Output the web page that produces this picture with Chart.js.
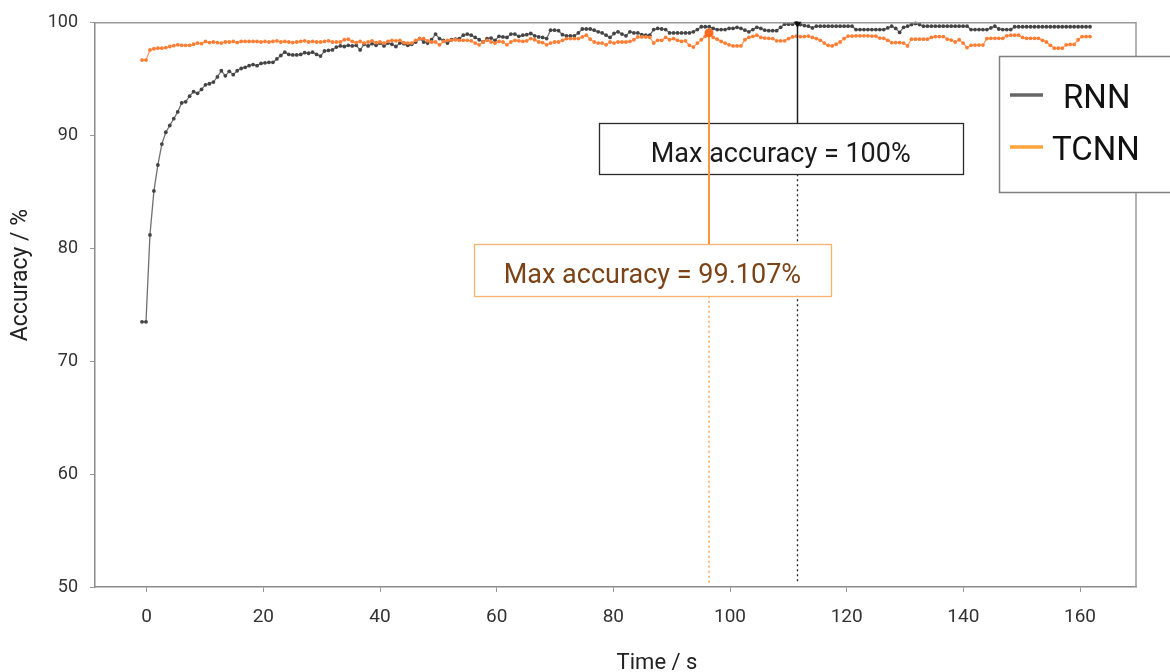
<!DOCTYPE html>
<html><head><meta charset="utf-8">
<script src="https://cdn.jsdelivr.net/npm/chart.js@4.4.1/dist/chart.umd.min.js"></script>
<style>html,body{margin:0;padding:0;background:#fff;}canvas{display:block;}</style>
</head><body>
<canvas id="c" width="1170" height="672"></canvas>
<script>
// ---- data ----
const timeStart = -0.8;       // s, first sample
const timeStep = 0.68;        // s, sampling interval
const seriesNames = ['RNN', 'TCNN'];
const rnnAccuracy = [
  73.5,73.5,81.2,85.1,87.4,89.25,90.3,90.9,91.5,92.1,
  92.9,93.0,93.5,93.9,93.75,94.1,94.5,94.6,94.75,95.2,
  95.75,95.3,95.7,95.4,95.75,95.95,96.05,96.2,96.3,96.2,
  96.4,96.45,96.5,96.5,96.8,97.1,97.4,97.2,97.15,97.15,
  97.2,97.35,97.3,97.4,97.2,97.05,97.5,97.55,97.6,97.85,
  97.95,97.9,98.0,97.95,98.0,97.6,98.1,97.95,98.15,98.0,
  98.2,97.95,98.2,98.1,97.9,98.2,98.15,98.0,98.1,98.3,
  98.6,98.3,98.2,98.5,99.0,98.6,98.45,98.2,98.5,98.55,
  98.6,98.9,99.0,98.9,98.7,98.5,98.3,98.6,98.65,98.45,
  98.8,98.75,98.7,99.0,99.0,98.8,98.9,98.95,99.05,98.85,
  98.75,98.7,98.6,99.35,99.35,99.3,98.95,98.85,98.85,98.85,
  99.1,99.45,99.45,99.45,99.35,99.2,99.1,98.9,98.7,99.05,
  99.2,99.0,98.85,99.2,99.1,99.1,98.95,98.9,98.9,99.4,
  99.5,99.45,99.4,99.1,99.1,99.1,99.1,99.1,99.1,99.2,
  99.4,99.65,99.65,99.65,99.5,99.4,99.4,99.4,99.5,99.5,
  99.6,99.5,99.35,99.2,99.4,99.6,99.5,99.35,99.3,99.3,
  99.3,99.6,99.88,99.88,99.88,100,99.85,99.75,99.7,99.55,
  99.7,99.7,99.7,99.7,99.7,99.7,99.7,99.7,99.7,99.7,
  99.4,99.4,99.4,99.4,99.4,99.4,99.4,99.4,99.55,99.7,
  99.5,99.15,99.6,99.7,99.85,99.94,99.85,99.7,99.7,99.7,
  99.7,99.7,99.7,99.7,99.7,99.7,99.7,99.7,99.7,99.4,
  99.4,99.4,99.4,99.4,99.55,99.7,99.45,99.4,99.4,99.4,
  99.65,99.65,99.65,99.65,99.65,99.65,99.65,99.65,99.65,99.65,
  99.65,99.65,99.65,99.65,99.65,99.65,99.65,99.65,99.65,99.65
];
const tcnnAccuracy = [
  96.7,96.7,97.6,97.7,97.75,97.75,97.8,97.9,97.97,98.05,
  98.0,98.0,98.0,98.1,98.2,98.15,98.35,98.25,98.3,98.25,
  98.2,98.3,98.3,98.35,98.25,98.35,98.35,98.35,98.35,98.35,
  98.3,98.35,98.3,98.35,98.4,98.3,98.35,98.3,98.25,98.3,
  98.35,98.4,98.3,98.35,98.3,98.3,98.35,98.4,98.3,98.3,
  98.3,98.5,98.55,98.35,98.25,98.35,98.2,98.3,98.4,98.25,
  98.3,98.2,98.35,98.45,98.4,98.45,98.25,98.2,98.2,98.45,
  98.6,98.6,98.4,98.3,98.3,98.05,98.35,98.45,98.45,98.5,
  98.45,98.45,98.45,98.4,98.2,98.05,98.3,98.45,98.3,98.2,
  98.35,98.3,98.05,98.3,98.45,98.4,98.35,98.4,98.6,98.5,
  98.3,98.25,98.05,98.2,98.3,98.3,98.45,98.6,98.6,98.6,
  98.6,98.75,98.9,98.55,98.3,98.2,98.2,98.05,98.3,98.2,
  98.3,98.3,98.3,98.35,98.5,98.75,98.75,98.75,98.7,98.2,
  98.45,98.45,98.7,98.5,98.6,98.45,98.35,98.4,98.0,97.85,
  98.2,98.5,98.8,99.107,98.7,98.55,98.35,98.2,98.05,97.95,
  97.95,97.95,98.5,98.7,98.8,98.9,98.7,98.65,98.62,98.6,
  98.4,98.4,98.4,98.6,98.75,98.82,98.78,98.78,98.82,98.7,
  98.6,98.45,98.2,98.0,97.95,98.1,98.3,98.6,98.82,98.82,
  98.85,98.85,98.85,98.85,98.82,98.82,98.65,98.62,98.45,98.25,
  98.25,98.25,98.2,97.95,98.55,98.55,98.55,98.55,98.55,98.7,
  98.78,98.78,98.78,98.55,98.47,98.3,98.5,98.2,97.8,98.0,
  98.03,98.03,98.03,98.6,98.62,98.62,98.62,98.62,98.85,98.9,
  98.9,98.9,98.7,98.62,98.62,98.62,98.62,98.45,98.3,98.0,
  97.75,97.75,97.75,98.05,98.08,98.08,98.5,98.78,98.78,98.78
];
const xTickValues = [0, 20, 40, 60, 80, 100, 120, 140, 160];
const yTickValues = [50, 60, 70, 80, 90, 100];
const xTitle = 'Time / s';
const yTitle = 'Accuracy / %';

const time = rnnAccuracy.map((_, i) => +(timeStart + i * timeStep).toFixed(3));
const FONT = 'Roboto';

const annotations = [
  { data: rnnAccuracy, line: '#1e1e1e', lw: 1.5, border: '#2a2a2a', text: '#1a1a1a', marker: 'tri',
    box: [77.5, 139.9, 91.08, 86.57] },
  { data: tcnnAccuracy, line: '#ff9440', lw: 2, border: '#f8b26a', text: '#7c4416', marker: 'dot',
    box: [56.1, 117.3, 80.39, 75.8] }
];

const decorPlugin = {
  id: 'decor',
  afterDatasetsDraw(chart) {
    const { ctx, chartArea: ca, scales: { x, y } } = chart;
    ctx.save();
    // frame top/right
    ctx.strokeStyle = '#9a9a9a'; ctx.lineWidth = 1.5;
    ctx.beginPath(); ctx.moveTo(ca.left, ca.top); ctx.lineTo(ca.right, ca.top); ctx.lineTo(ca.right, ca.bottom); ctx.stroke();

    annotations.forEach(a => {
      let mi = 0; a.data.forEach((v, i) => { if (v > a.data[mi]) mi = i; });
      const maxV = a.data[mi];
      const px = Math.round(x.getPixelForValue(time[mi])) + (a.lw === 2 ? 0 : 0.5), py = y.getPixelForValue(maxV);
      const bl = x.getPixelForValue(a.box[0]), br = x.getPixelForValue(a.box[1]);
      const bt = y.getPixelForValue(a.box[2]), bb = y.getPixelForValue(a.box[3]);
      ctx.strokeStyle = a.line; ctx.lineWidth = a.lw; ctx.setLineDash([]);
      ctx.beginPath(); ctx.moveTo(px, py); ctx.lineTo(px, bt); ctx.stroke();
      ctx.setLineDash([2, 3]); ctx.lineWidth = 1.3;
      ctx.beginPath(); ctx.moveTo(px, bb); ctx.lineTo(px, ca.bottom - 3); ctx.stroke();
      ctx.setLineDash([]);
      // box
      ctx.fillStyle = '#fff'; ctx.fillRect(bl, bt, br - bl, bb - bt);
      ctx.strokeStyle = a.border; ctx.lineWidth = 1.3;
      ctx.strokeRect(Math.round(bl) + 0.5, Math.round(bt) + 0.5, Math.round(br - bl), Math.round(bb - bt));
      ctx.fillStyle = a.text; ctx.font = `27px ${FONT}`; ctx.textAlign = 'center'; ctx.textBaseline = 'middle';
      ctx.fillText(`Max accuracy = ${maxV}%`, (bl + br) / 2, (bt + bb) / 2 + 6);
      // marker
      if (a.marker === 'dot') {
        ctx.fillStyle = '#ff6a1f'; ctx.beginPath(); ctx.arc(px, py, 4.5, 0, Math.PI * 2); ctx.fill();
      } else {
        ctx.fillStyle = '#111'; ctx.beginPath(); ctx.moveTo(px - 4, py - 1); ctx.lineTo(px + 4, py - 1); ctx.lineTo(px, py + 5); ctx.closePath(); ctx.fill();
      }
    });

    // axis titles
    ctx.fillStyle = '#222'; ctx.textAlign = 'center'; ctx.textBaseline = 'middle';
    ctx.font = `22px ${FONT}`;
    ctx.fillText(xTitle, 657, 663);
    ctx.save(); ctx.translate(21, 275); ctx.rotate(-Math.PI / 2); ctx.font = `23px ${FONT}`; ctx.fillText(yTitle, 0, 0); ctx.restore();

    // legend
    ctx.fillStyle = '#fff'; ctx.fillRect(999, 56, 200, 137);
    ctx.strokeStyle = '#808080'; ctx.lineWidth = 1.5; ctx.strokeRect(999.5, 56.5, 200, 136);
    const legColors = ['#666666', '#ffa43d'];
    const legY = [95, 147];
    const legX = [1063, 1052];
    seriesNames.forEach((n, i) => {
      ctx.strokeStyle = legColors[i]; ctx.lineWidth = 3.5;
      ctx.beginPath(); ctx.moveTo(1010, legY[i]); ctx.lineTo(1043, legY[i]); ctx.stroke();
      ctx.fillStyle = '#111'; ctx.font = `33px ${FONT}`; ctx.textAlign = 'left'; ctx.textBaseline = 'middle';
      ctx.fillText(n, legX[i], legY[i] + 5);
    });
    ctx.restore();
  }
};

new Chart(document.getElementById('c'), {
  type: 'line',
  data: {
    datasets: [
      { label: seriesNames[0], data: time.map((t, i) => ({ x: t, y: rnnAccuracy[i] })),
        borderColor: '#707070', borderWidth: 1.3, pointRadius: 1.9, pointBorderWidth: 0,
        pointBackgroundColor: '#444444', tension: 0, clip: false, order: 2 },
      { label: seriesNames[1], data: time.map((t, i) => ({ x: t, y: tcnnAccuracy[i] })),
        borderColor: '#ff9d63', borderWidth: 1.3, pointRadius: 1.9, pointBorderWidth: 0,
        pointBackgroundColor: '#ff7e33', tension: 0, clip: false, order: 1 }
    ]
  },
  options: {
    responsive: false, animation: false, devicePixelRatio: 1,
    layout: { padding: { left: 0, right: 34, top: 21, bottom: 0 } },
    plugins: { legend: { display: false }, tooltip: { enabled: false } },
    scales: {
      x: {
        type: 'linear', min: -8.86, max: 169.6,
        afterBuildTicks: s => { s.ticks = xTickValues.map(v => ({ value: v })); },
        afterFit: s => { s.height = 85; },
        ticks: { font: { family: FONT, size: 19 }, color: '#333', padding: 14, maxRotation: 0, autoSkip: false },
        grid: { drawOnChartArea: false, drawTicks: true, tickLength: 5, color: '#999' },
        border: { color: '#8a8a8a', width: 1.5 }
      },
      y: {
        type: 'linear', min: 50, max: 100,
        afterBuildTicks: s => { s.ticks = yTickValues.map(v => ({ value: v })); },
        afterFit: s => { s.width = 95; },
        ticks: { font: { family: FONT, size: 18 }, color: '#333', padding: 12 },
        grid: { drawOnChartArea: false, drawTicks: true, tickLength: 5, color: '#999' },
        border: { color: '#8a8a8a', width: 1.5 }
      }
    }
  },
  plugins: [decorPlugin]
});
</script>
</body></html>
